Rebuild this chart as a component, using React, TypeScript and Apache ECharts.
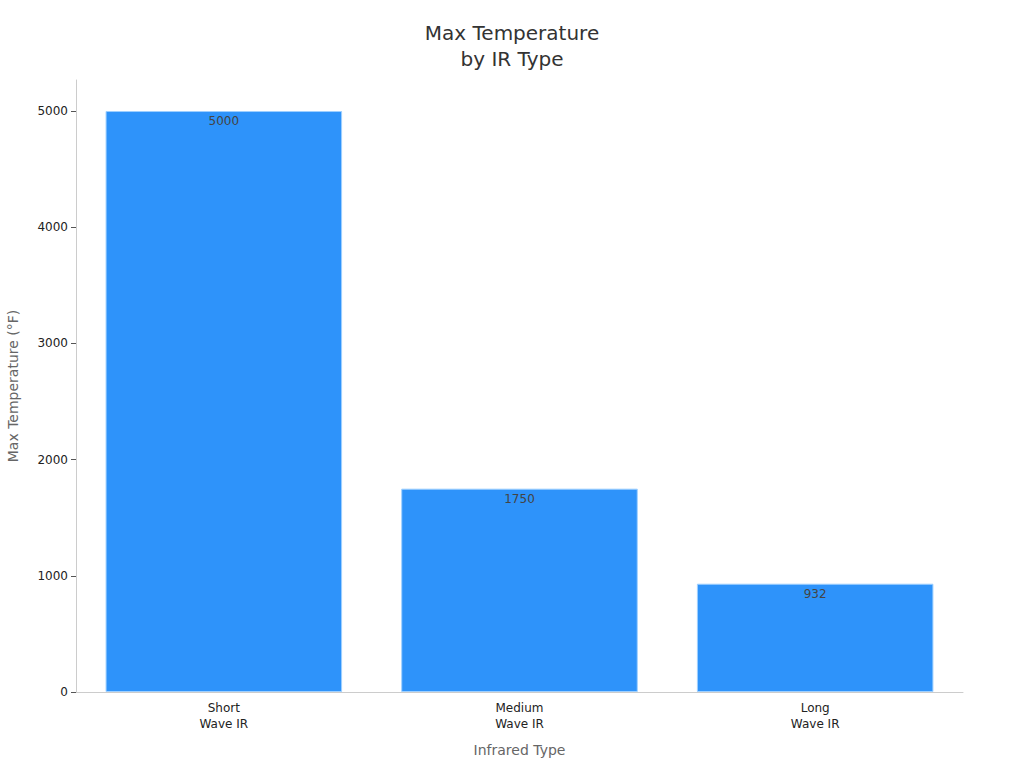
import * as echarts from 'echarts';
import React, { useEffect, useRef } from 'react';

const categories = ['Short\nWave IR', 'Medium\nWave IR', 'Long\nWave IR'];
const maxTemps = [5000, 1750, 932];
const yTicks = [0, 1000, 2000, 3000, 4000, 5000];

const option: echarts.EChartsOption = {
  animation: false,
  backgroundColor: '#ffffff',
  textStyle: { fontFamily: 'DejaVu Sans' },
  title: {
    text: 'Max Temperature\nby IR Type',
    left: 'center',
    top: 15,
    textStyle: {
      fontSize: 20,
      lineHeight: 26,
      fontWeight: 'normal',
      color: '#333333',
      fontFamily: 'DejaVu Sans',
    },
  },
  grid: { left: 76, right: 61, top: 80, bottom: 76, outerBoundsMode: 'none' } as any,
  xAxis: {
    type: 'category',
    data: categories,
    name: 'Infrared Type',
    nameLocation: 'middle',
    nameGap: 51,
    nameTextStyle: { fontSize: 14, color: '#666666' },
    axisLine: { lineStyle: { color: '#cccccc' } },
    axisTick: { alignWithLabel: true, length: 5, lineStyle: { color: '#555555' } },
    axisLabel: { fontSize: 12, color: '#222222', lineHeight: 16, margin: 8 },
  },
  yAxis: {
    type: 'value',
    min: 0,
    max: 5267,
    name: 'Max Temperature (°F)',
    nameLocation: 'middle',
    nameGap: 56,
    nameTextStyle: { fontSize: 14, color: '#666666' },
    axisLine: { show: true, lineStyle: { color: '#cccccc' } },
    axisTick: { show: true, length: 5, customValues: yTicks, lineStyle: { color: '#555555' } },
    axisLabel: {
      fontSize: 12,
      color: '#222222',
      margin: 8,
      customValues: yTicks,
      formatter: (v: number) => String(v),
    },
    splitLine: { show: false },
  },
  series: [
    {
      type: 'bar',
      data: maxTemps,
      barCategoryGap: '20%',
      itemStyle: { color: '#2e93fa', borderColor: '#9fd0ff', borderWidth: 1 },
      label: {
        show: true,
        position: 'insideTop',
        distance: 4,
        fontSize: 12,
        color: '#444444',
      },
    },
  ],
};

const App: React.FC = () => {
  const chartRef = useRef<HTMLDivElement>(null);
  useEffect(() => {
    if (!chartRef.current) return;
    const instance = echarts.init(chartRef.current, null, { renderer: 'svg' });
    instance.setOption(option);
    return () => {
      instance.dispose();
    };
  }, []);

  return (
    <div
      ref={chartRef}
      style={{ position: 'fixed', left: 0, top: 0, width: 1024, height: 768 }}
    />
  );
};

export default App;
